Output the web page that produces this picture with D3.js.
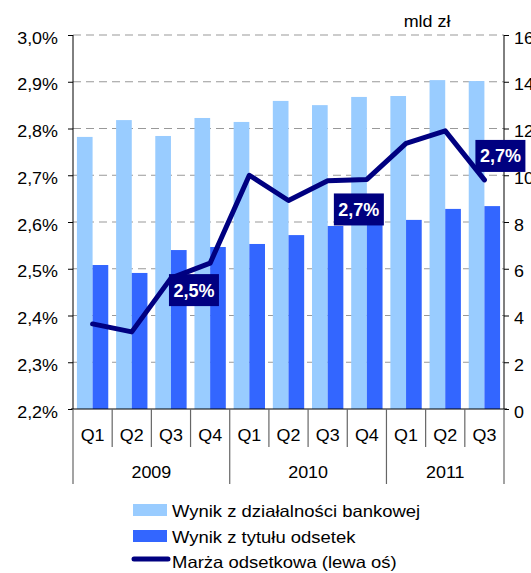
<!DOCTYPE html>
<html><head><meta charset="utf-8">
<script src="https://cdn.jsdelivr.net/npm/d3@7"></script>
<style>body{margin:0;background:#fff}svg{display:block;font-family:"Liberation Sans",Arial,sans-serif}</style>
</head><body><svg id="c" width="531" height="573"></svg>
<script>
const quarters = ["Q1","Q2","Q3","Q4","Q1","Q2","Q3","Q4","Q1","Q2","Q3"];
const years = ["2009","2010","2011"];
const yearSpans = [4,4,3];
const bankowa = [11.64,12.36,11.68,12.45,12.28,13.18,13.0,13.35,13.39,14.07,14.03];
const odsetki = [6.16,5.82,6.80,6.93,7.06,7.44,7.83,8.09,8.09,8.56,8.68];
const marza = [2.382,2.365,2.48,2.512,2.700,2.646,2.688,2.691,2.768,2.795,2.690];
const leftTicks = [2.2,2.3,2.4,2.5,2.6,2.7,2.8,2.9,3.0];
const rightTicks = [0,2,4,6,8,10,12,14,16];
const labelIdx = [2,7,10];
const labelText = ["2,5%","2,7%","2,7%"];
const seriesNames = ["Wynik z działalności bankowej","Wynik z tytułu odsetek","Marża odsetkowa (lewa oś)"];

const SX = 1.12;
const svg = d3.select("#c");
const L=73,R=504,T=35,B=409;
const idx = d3.range(quarters.length);
const x = d3.scaleBand().domain(idx).range([L,R]).padding(0);
const bw = x.bandwidth();
const x1 = d3.scaleBand().domain([0,1]).range([bw*0.1,bw*0.9]).padding(0);
const yL = d3.scaleLinear().domain([2.2,3.0]).range([B,T]);
const yR = d3.scaleLinear().domain([0,16]).range([B,T]);
const fmtL = d => d3.format(".1f")(d).replace(".",",")+"%";

function stretch(sel){
  sel.each(function(){
    const t=d3.select(this);
    const xx=+(t.attr("x")||0), yy=+(t.attr("y")||0);
    t.attr("x",0).attr("y",0).attr("transform",`translate(${xx},${yy}) scale(${SX},1)`);
  });
}

// grid
svg.append("g").selectAll("line").data(leftTicks.slice(1)).join("line")
  .attr("x1",L).attr("x2",R).attr("y1",d=>yL(d)).attr("y2",d=>yL(d))
  .attr("stroke","#999").attr("stroke-width",1).attr("stroke-dasharray","8,5");

// bars
const colors=["#99CCFF","#3366FF"];
[bankowa,odsetki].forEach((s,si)=>{
  svg.append("g").selectAll("rect").data(s).join("rect")
   .attr("x",(d,i)=>x(i)+x1(si)).attr("width",x1.bandwidth())
   .attr("y",d=>yR(d)).attr("height",d=>B-yR(d)).attr("fill",colors[si]);
});

// line
svg.append("path").datum(marza)
  .attr("d",d3.line().x((d,i)=>x(i)+bw/2).y(d=>yL(d)))
  .attr("fill","none").attr("stroke","#000080").attr("stroke-width",5)
  .attr("stroke-linejoin","round").attr("stroke-linecap","round");

// left axis
const la = svg.append("g").attr("transform",`translate(${L},0)`)
  .call(d3.axisLeft(yL).tickValues(leftTicks).tickFormat(fmtL).tickSize(5).tickPadding(10));
la.selectAll("text").attr("font-size",16).attr("fill","#000").attr("dy","0.5em")
  .attr("font-family","Liberation Sans, Arial, sans-serif").call(stretch);
la.selectAll("line,path").attr("stroke","#000");
la.select(".domain").attr("d",`M0,${T}V${B}`);

// right axis
const ra = svg.append("g").attr("transform",`translate(${R},0)`)
  .call(d3.axisRight(yR).tickValues(rightTicks).tickSize(5).tickPadding(5));
ra.selectAll("text").attr("font-size",16).attr("fill","#000").attr("dy","0.5em")
  .attr("font-family","Liberation Sans, Arial, sans-serif").call(stretch);
ra.selectAll("line,path").attr("stroke","#000");
ra.select(".domain").attr("d",`M0,${T}V${B}`);

svg.append("text").attr("x",427).attr("y",27).attr("text-anchor","middle")
  .attr("font-size",16).text("mld zł").call(stretch);

// x axis
svg.append("line").attr("x1",L-2).attr("x2",R+3).attr("y1",B).attr("y2",B).attr("stroke","#000");
const yearStarts = d3.cumsum([0,...yearSpans]);
svg.append("g").selectAll("line").data(d3.range(quarters.length+1)).join("line")
  .attr("x1",i=>L+i*bw).attr("x2",i=>L+i*bw).attr("y1",B)
  .attr("y2",i=>yearStarts.includes(i)?484:447)
  .attr("stroke","#666").attr("stroke-width",1.2);
svg.append("g").selectAll("text").data(quarters).join("text")
  .attr("x",(d,i)=>x(i)+bw/2).attr("y",441).attr("text-anchor","middle")
  .attr("font-size",16).text(d=>d).call(stretch);
svg.append("g").selectAll("text").data(years).join("text")
  .attr("x",(d,i)=>L+(yearStarts[i]+yearSpans[i]/2)*bw).attr("y",478).attr("text-anchor","middle")
  .attr("font-size",16).text(d=>d).call(stretch);

// data labels
const offs=[[-2,-4],[-33,14],[-9,-40]];
labelIdx.forEach((k,j)=>{
  const px=x(k)+bw/2, py=yL(marza[k]);
  const g=svg.append("g").attr("transform",`translate(${px+offs[j][0]},${py+offs[j][1]})`);
  g.append("rect").attr("width",50).attr("height",32).attr("fill","#000080");
  g.append("text").attr("x",25).attr("y",22.5).attr("text-anchor","middle")
   .attr("fill","#fff").attr("font-weight","bold").attr("font-size",18).text(labelText[j]);
});

// legend
const lg = svg.append("g");
[0,1].forEach(i=>{
  lg.append("rect").attr("x",133).attr("y",504+i*26).attr("width",34).attr("height",12).attr("fill",colors[i]);
});
lg.append("line").attr("x1",134).attr("x2",168).attr("y1",559).attr("y2",559)
  .attr("stroke","#000080").attr("stroke-width",5).attr("stroke-linecap","round");
seriesNames.forEach((n,i)=>{
  lg.append("text").attr("x",172).attr("y",517+i*25.5).attr("font-size",16.5).text(n).call(stretch);
});
</script></body></html>
